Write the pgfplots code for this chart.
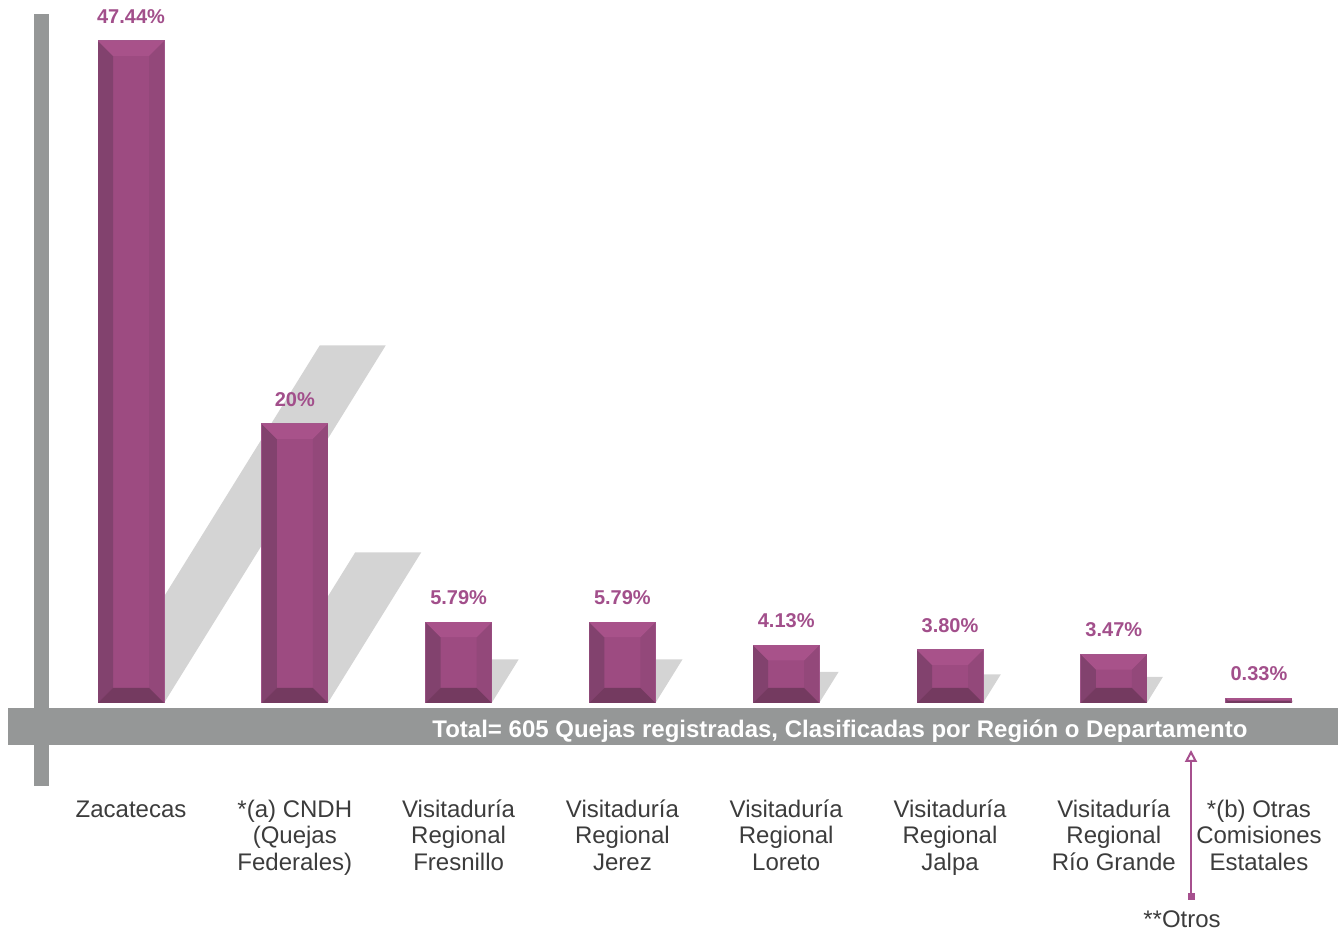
\documentclass[border=0pt]{standalone}
\usepackage{fontspec}
\setmainfont{Liberation Sans}
\usepackage{pgfplots}
\pgfplotsset{compat=1.18}
\usetikzlibrary{arrows.meta}
\definecolor{barM}{HTML}{9D4B81}
\definecolor{barL}{HTML}{82426E}
\definecolor{barR}{HTML}{93487A}
\definecolor{barT}{HTML}{A8528A}
\definecolor{barB}{HTML}{743A60}
\definecolor{barEdge}{HTML}{A3578C}
\definecolor{pctcol}{HTML}{A24F8B}
\definecolor{shadowgray}{HTML}{D4D4D4}
\definecolor{bandgray}{HTML}{959797}
\definecolor{labelgray}{HTML}{3C3C3C}
\definecolor{arrowcol}{HTML}{A6508E}
\newcommand\st{\rule{0pt}{10pt}}
\pgfplotsset{mybar/.style={ybar, bar width=33pt, bar shift=0pt, fill=barM, draw=barEdge, line width=0.5pt,
  nodes near coords, point meta=explicit symbolic,
  every node near coord/.append style={font=\bfseries\fontsize{10}{12}\selectfont, text=pctcol, anchor=south, yshift=8.5pt, inner sep=0pt}},
  shadowplot/.style={fill=shadowgray, draw=none},
  bvf/.style={fill=#1, draw=none}}
% bevel overlay of a bar: #1 = x position, #2 = value
\newcommand\bevelbar[2]{%
 \pgfmathsetmacro\xl{#1-0.2015}\pgfmathsetmacro\xr{#1+0.2015}%
 \pgfmathsetmacro\dy{min(1.075,0.45*#2)}\pgfmathsetmacro\dx{\dy*0.0852}%
 \pgfmathsetmacro\xli{\xl+\dx}\pgfmathsetmacro\xri{\xr-\dx}%
 \pgfmathsetmacro\yb{\dy}\pgfmathsetmacro\yt{#2-\dy}%
 \addplot[bvf=barL] coordinates {(\xl,0) (\xli,\yb) (\xli,\yt) (\xl,#2)};
 \addplot[bvf=barR] coordinates {(\xr,0) (\xri,\yb) (\xri,\yt) (\xr,#2)};
 \addplot[bvf=barT] coordinates {(\xl,#2) (\xr,#2) (\xri,\yt) (\xli,\yt)};
 \addplot[bvf=barB] coordinates {(\xl,0) (\xr,0) (\xri,\yb) (\xli,\yb)};
}
\begin{document}
\begin{tikzpicture}
\path[use as bounding box] (0,0) rectangle (669pt,465pt);
\begin{axis}[
  at={(0,0)}, anchor=south west, scale only axis, width=669pt, height=465pt,
  xmin=-0.7998, xmax=7.3687, ymin=-16.267, ymax=50.376,
  clip=false, axis line style={draw=none}, tick style={draw=none}, ytick=\empty,
  xtick={0,1,2,3,4,5,6,6.886},
  xticklabels={\st Zacatecas,{\st*(a) CNDH\\(Quejas\\Federales)},{\st Visitaduría\\Regional\\Fresnillo},{\st Visitaduría\\Regional\\Jerez},{\st Visitaduría\\Regional\\Loreto},{\st Visitaduría\\Regional\\Jalpa},{\st Visitaduría\\Regional\\Río Grande},{\st*(b) Otras\\Comisiones\\Estatales}},
  xticklabel style={align=center, anchor=north, yshift=66.5pt, inner sep=0pt, font=\fontsize{12}{13.25}\selectfont, text=labelgray},
]
% shadows
\addplot[shadowplot] coordinates {(-0.2015,0) (0.2015,0) (1.555,25.62) (1.152,25.62)};
\addplot[shadowplot] coordinates {(0.7985,0) (1.2015,0) (1.772,10.8) (1.369,10.8)};
\addplot[shadowplot] coordinates {(1.7985,0) (2.2015,0) (2.367,3.127) (1.964,3.127)};
\addplot[shadowplot] coordinates {(2.7985,0) (3.2015,0) (3.367,3.127) (2.964,3.127)};
\addplot[shadowplot] coordinates {(3.7985,0) (4.2015,0) (4.320,2.23) (3.917,2.23)};
\addplot[shadowplot] coordinates {(4.7985,0) (5.2015,0) (5.310,2.05) (4.907,2.05)};
\addplot[shadowplot] coordinates {(5.7985,0) (6.2015,0) (6.300,1.874) (5.898,1.874)};
\addplot[shadowplot] coordinates {(6.6845,0) (7.0875,0) (7.097,0.178) (6.694,0.178)};
% bars
\addplot[mybar] coordinates {(0,47.44) [47.44\%]};
\bevelbar{0}{47.44}
\addplot[mybar] coordinates {(1,20) [20\%]};
\bevelbar{1}{20}
\addplot[mybar] coordinates {(2,5.79) [5.79\%]};
\bevelbar{2}{5.79}
\addplot[mybar] coordinates {(3,5.79) [5.79\%]};
\bevelbar{3}{5.79}
\addplot[mybar] coordinates {(4,4.13) [4.13\%]};
\bevelbar{4}{4.13}
\addplot[mybar] coordinates {(5,3.80) [3.80\%]};
\bevelbar{5}{3.80}
\addplot[mybar] coordinates {(6,3.47) [3.47\%]};
\bevelbar{6}{3.47}
\addplot[mybar] coordinates {(6.886,0.33) [0.33\%]};
\bevelbar{6.886}{0.33}
\end{axis}
\begin{scope}[x=0.5pt, y=-0.5pt, shift={(0,465pt)}]
\fill[bandgray] (34,14) rectangle (49,786);
\fill[bandgray] (8,708) rectangle (1338,745);
\node[text=white, font=\bfseries\fontsize{12}{14}\selectfont, inner sep=0pt] at (840,731) {Total= 605 Quejas registradas, Clasificadas por Región o Departamento};
\draw[arrowcol, line width=1pt, {Square[width=3.5pt,length=3.5pt]}-{Triangle[open,width=6pt,length=6pt]}] (1191,900) -- (1191,750);
\node[text=labelgray, font=\fontsize{12}{14}\selectfont, inner sep=0pt] at (1182,919) {**Otros};
\end{scope}
\end{tikzpicture}
\end{document}
